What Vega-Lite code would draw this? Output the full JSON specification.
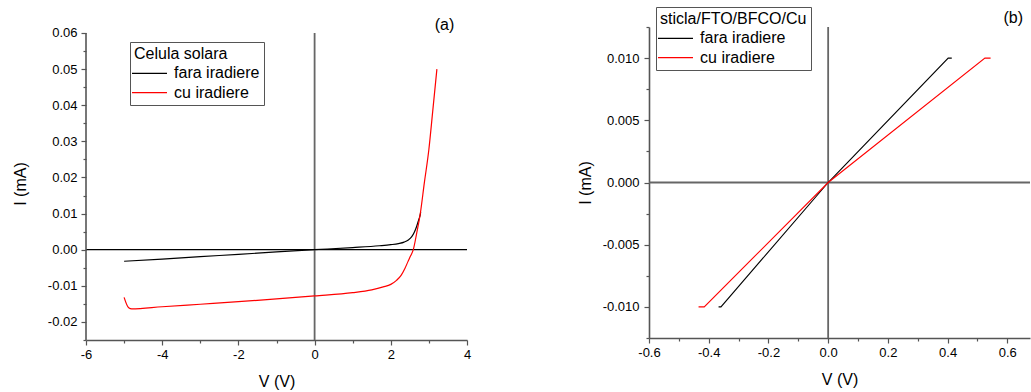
{
  "$schema": "https://vega.github.io/schema/vega-lite/v6.json",
  "autosize": {"type": "none"},
  "padding": {"left": 86, "top": 27, "right": 945, "bottom": 365},
  "background": "white",
  "config": {
    "view": {"stroke": null},
    "font": "Liberation Sans",
    "axis": {
      "grid": false,
      "domainColor": "#555",
      "domainWidth": 1.6,
      "tickColor": "#555",
      "tickWidth": 1.2,
      "labelFont": "Liberation Sans",
      "labelFontSize": 13,
      "labelColor": "#000",
      "titleFont": "Liberation Sans",
      "titleFontSize": 16,
      "titleFontWeight": "normal",
      "titleColor": "#000",
      "labelOverlap": false,
      "labelFlush": false
    },
    "legend": {
      "titleFont": "Liberation Sans",
      "labelFont": "Liberation Sans",
      "titleFontWeight": "normal",
      "titleFontSize": 16,
      "labelFontSize": 16,
      "titleColor": "#000",
      "labelColor": "#000",
      "strokeColor": "#555",
      "fillColor": "white",
      "padding": 4,
      "symbolType": "M-3,0H3",
      "symbolSize": 136,
      "symbolStrokeWidth": 1.3,
      "symbolOffset": 7.5,
      "rowPadding": 3.4,
      "titlePadding": 3.3,
      "labelOffset": 16.6
    }
  },
  "datasets": {
    "leftCurves": [
      {"series": "fara iradiere", "o": 1, "V": -5, "I": -0.0032},
      {"series": "fara iradiere", "o": 2, "V": -4, "I": -0.0026},
      {"series": "fara iradiere", "o": 3, "V": -3, "I": -0.0019},
      {"series": "fara iradiere", "o": 4, "V": -2, "I": -0.0013},
      {"series": "fara iradiere", "o": 5, "V": -1, "I": -0.0006},
      {"series": "fara iradiere", "o": 6, "V": 0, "I": 0},
      {"series": "fara iradiere", "o": 7, "V": 1, "I": 0.0006},
      {"series": "fara iradiere", "o": 8, "V": 1.7, "I": 0.0011},
      {"series": "fara iradiere", "o": 9, "V": 2.0, "I": 0.0014},
      {"series": "fara iradiere", "o": 10, "V": 2.2, "I": 0.0017},
      {"series": "fara iradiere", "o": 11, "V": 2.35, "I": 0.0021},
      {"series": "fara iradiere", "o": 12, "V": 2.46, "I": 0.0027},
      {"series": "fara iradiere", "o": 13, "V": 2.55, "I": 0.0036},
      {"series": "fara iradiere", "o": 14, "V": 2.62, "I": 0.0049},
      {"series": "fara iradiere", "o": 15, "V": 2.68, "I": 0.0065},
      {"series": "fara iradiere", "o": 16, "V": 2.73, "I": 0.0082},
      {"series": "fara iradiere", "o": 17, "V": 2.77, "I": 0.0096},
      {"series": "fara iradiere", "o": 18, "V": 2.785, "I": 0.0104},
      {"series": "cu iradiere", "o": 1, "V": -5, "I": -0.0132},
      {"series": "cu iradiere", "o": 2, "V": -4.88, "I": -0.0161},
      {"series": "cu iradiere", "o": 3, "V": -4.8, "I": -0.0164},
      {"series": "cu iradiere", "o": 4, "V": -4, "I": -0.0158},
      {"series": "cu iradiere", "o": 5, "V": -3, "I": -0.0151},
      {"series": "cu iradiere", "o": 6, "V": -2, "I": -0.0144},
      {"series": "cu iradiere", "o": 7, "V": -1, "I": -0.0136},
      {"series": "cu iradiere", "o": 8, "V": 0, "I": -0.0128},
      {"series": "cu iradiere", "o": 9, "V": 1, "I": -0.0119},
      {"series": "cu iradiere", "o": 10, "V": 1.5, "I": -0.0111},
      {"series": "cu iradiere", "o": 11, "V": 1.8, "I": -0.0103},
      {"series": "cu iradiere", "o": 12, "V": 2.0, "I": -0.0096},
      {"series": "cu iradiere", "o": 13, "V": 2.15, "I": -0.0085},
      {"series": "cu iradiere", "o": 14, "V": 2.27, "I": -0.0071},
      {"series": "cu iradiere", "o": 15, "V": 2.37, "I": -0.0052},
      {"series": "cu iradiere", "o": 16, "V": 2.45, "I": -0.0033},
      {"series": "cu iradiere", "o": 17, "V": 2.52, "I": -0.0017},
      {"series": "cu iradiere", "o": 18, "V": 2.59, "I": 0},
      {"series": "cu iradiere", "o": 19, "V": 2.68, "I": 0.0046},
      {"series": "cu iradiere", "o": 20, "V": 2.77, "I": 0.0097},
      {"series": "cu iradiere", "o": 21, "V": 2.88, "I": 0.0185},
      {"series": "cu iradiere", "o": 22, "V": 3.0, "I": 0.0278},
      {"series": "cu iradiere", "o": 23, "V": 3.1, "I": 0.0383},
      {"series": "cu iradiere", "o": 24, "V": 3.21, "I": 0.05}
    ],
    "rightCurves": [
      {"series": "fara iradiere", "o": 1, "V": -0.367, "I": -0.01},
      {"series": "fara iradiere", "o": 2, "V": -0.359, "I": -0.01},
      {"series": "fara iradiere", "o": 3, "V": 0, "I": 0},
      {"series": "fara iradiere", "o": 4, "V": 0.402, "I": 0.01},
      {"series": "fara iradiere", "o": 5, "V": 0.414, "I": 0.01},
      {"series": "cu iradiere", "o": 1, "V": -0.434, "I": -0.01},
      {"series": "cu iradiere", "o": 2, "V": -0.415, "I": -0.01},
      {"series": "cu iradiere", "o": 3, "V": 0, "I": 0},
      {"series": "cu iradiere", "o": 4, "V": 0.525, "I": 0.01},
      {"series": "cu iradiere", "o": 5, "V": 0.544, "I": 0.01}
    ]
  },
  "resolve": {"scale": {"color": "independent"}},
  "bounds": "flush",
  "spacing": 182,
  "hconcat": [
    {
      "width": 381,
      "height": 313,
      "encoding": {
        "x": {
          "field": "V", "type": "quantitative",
          "scale": {"domain": [-6, 4], "nice": false, "zero": false},
          "axis": {
            "title": "V (V)",
            "values": [-6, -5, -4, -3, -2, -1, 0, 1, 2, 3, 4],
            "format": "d",
            "labelExpr": "abs(round(datum.value)) % 2 == 0 ? replace(datum.label, '\u2212', '-') : ''",
            "tickSize": {"condition": {"test": "abs(round(datum.value)) % 2 == 0", "value": 5}, "value": 3},
            "labelPadding": 3,
            "titlePadding": 12
          }
        },
        "y": {
          "field": "I", "type": "quantitative",
          "scale": {"domain": [-0.025, 0.06166], "nice": false, "zero": false},
          "axis": {
            "title": "I (mA)",
            "domain": false,
            "values": [-0.025, -0.02, -0.015, -0.01, -0.005, 0, 0.005, 0.01, 0.015, 0.02, 0.025, 0.03, 0.035, 0.04, 0.045, 0.05, 0.055, 0.06],
            "format": ".2f",
            "labelExpr": "abs(round(datum.value * 1000)) % 10 == 0 ? replace(datum.label, '\u2212', '-') : ''",
            "tickSize": {"condition": {"test": "abs(round(datum.value * 1000)) % 10 == 0", "value": 5}, "value": 3},
            "labelPadding": 4,
            "titlePadding": 19
          }
        }
      },
      "layer": [
        {
          "data": {"values": [{"V": -6, "V2": 4, "I": 0}]},
          "mark": {"type": "rule", "color": "#000", "strokeWidth": 1.2},
          "encoding": {"x2": {"field": "V2"}}
        },
        {
          "data": {"values": [{"V": 0, "I": -0.025, "I2": 0.06}]},
          "mark": {"type": "rule", "color": "#666", "strokeWidth": 1.8},
          "encoding": {"y2": {"field": "I2"}}
        },
        {
          "data": {"values": [{"V": -6, "I": -0.025, "I2": 0.06}]},
          "mark": {"type": "rule", "color": "#555", "strokeWidth": 1.6},
          "encoding": {"y2": {"field": "I2"}}
        },
        {
          "data": {"name": "leftCurves"},
          "mark": {"type": "line", "strokeWidth": 1.2, "clip": false, "interpolate": "monotone"},
          "encoding": {
            "order": {"field": "o", "type": "quantitative"},
            "color": {
              "field": "series", "type": "nominal",
              "scale": {"domain": ["fara iradiere", "cu iradiere"], "range": ["#000000", "#ff0000"]},
              "legend": {"title": "Celula solara", "orient": "none", "legendX": 44, "legendY": 15}
            }
          }
        },
        {
          "data": {"values": [{"V": 3.41, "I": 0.0622, "label": "(a)"}]},
          "mark": {"type": "text", "fontSize": 16, "font": "Liberation Sans", "color": "#000", "align": "center", "baseline": "middle"},
          "encoding": {"text": {"field": "label"}}
        }
      ]
    },
    {
      "width": 381,
      "height": 311,
      "encoding": {
        "x": {
          "field": "V", "type": "quantitative",
          "scale": {"domain": [-0.6, 0.676], "nice": false, "zero": false},
          "axis": {
            "title": "V (V)",
            "values": [-0.6, -0.5, -0.4, -0.3, -0.2, -0.1, 0, 0.1, 0.2, 0.3, 0.4, 0.5, 0.6],
            "format": ".1f",
            "labelExpr": "abs(round(datum.value * 10)) % 2 == 0 ? replace(datum.label, '\u2212', '-') : ''",
            "tickSize": {"condition": {"test": "abs(round(datum.value * 10)) % 2 == 0", "value": 5}, "value": 3},
            "labelPadding": 3,
            "titlePadding": 12
          }
        },
        "y": {
          "field": "I", "type": "quantitative",
          "scale": {"domain": [-0.0125, 0.0125], "nice": false, "zero": false},
          "axis": {
            "title": "I (mA)",
            "values": [-0.0125, -0.01, -0.0075, -0.005, -0.0025, 0, 0.0025, 0.005, 0.0075, 0.01, 0.0125],
            "format": ".3f",
            "labelExpr": "abs(round(datum.value * 10000)) % 50 == 0 ? replace(datum.label, '\u2212', '-') : ''",
            "tickSize": {"condition": {"test": "abs(round(datum.value * 10000)) % 50 == 0", "value": 5}, "value": 3},
            "labelPadding": 5,
            "titlePadding": 9
          }
        }
      },
      "layer": [
        {
          "data": {"values": [{"V": -0.6, "V2": 0.676, "I": 0}]},
          "mark": {"type": "rule", "color": "#666", "strokeWidth": 1.8},
          "encoding": {"x2": {"field": "V2"}}
        },
        {
          "data": {"values": [{"V": 0, "I": -0.0125, "I2": 0.0125}]},
          "mark": {"type": "rule", "color": "#666", "strokeWidth": 1.8},
          "encoding": {"y2": {"field": "I2"}}
        },
        {
          "data": {"name": "rightCurves"},
          "mark": {"type": "line", "strokeWidth": 1.1, "clip": false},
          "encoding": {
            "order": {"field": "o", "type": "quantitative"},
            "color": {
              "field": "series", "type": "nominal",
              "scale": {"domain": ["fara iradiere", "cu iradiere"], "range": ["#000000", "#ff0000"]},
              "legend": {"title": "sticla/FTO/BFCO/Cu", "orient": "none", "legendX": 7, "legendY": -20}
            }
          }
        },
        {
          "data": {"values": [{"V": 0.62, "I": 0.0132, "label": "(b)"}]},
          "mark": {"type": "text", "fontSize": 16, "font": "Liberation Sans", "color": "#000", "align": "center", "baseline": "middle"},
          "encoding": {"text": {"field": "label"}}
        }
      ]
    }
  ]
}
